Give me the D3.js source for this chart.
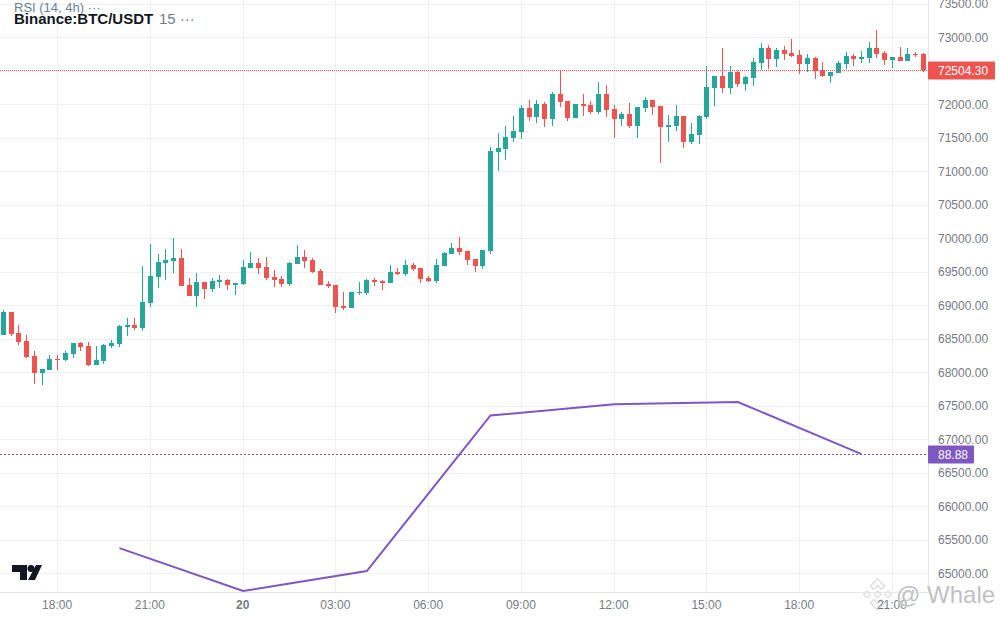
<!DOCTYPE html>
<html>
<head>
<meta charset="utf-8">
<script src="https://cdn.jsdelivr.net/npm/d3@7"></script>
<style>
html,body{margin:0;padding:0;background:#fff}
svg{display:block}
text{font-family:"Liberation Sans",Arial,sans-serif}
.tick text{fill:#787b86;font-size:12px}
.tick.day text{font-weight:bold}
</style>
</head>
<body>
<svg width="1000" height="620"></svg>
<script>
const opens = [
  68559,68902,68589,68469,68245,67992,68037,68201,68186,68275,
  68439,68395,68111,68171,68395,68424,68678,68708,68663,69036,
  69424,69633,69662,69707,69305,69140,69349,69245,69349,69379,
  69305,69319,69558,69633,69573,69424,69394,69319,69618,69722,
  69677,69513,69319,69305,68991,68961,69185,69185,69379,69364,
  69334,69498,69469,69603,69558,69409,69364,69588,69767,69856,
  69812,69692,69588,69812,71289,71333,71498,71587,71945,71811,
  72005,71781,72154,72049,71796,72005,71990,71885,72154,71930,
  71781,71856,71677,71945,72064,71975,71662,71677,71826,71438,
  71542,71811,72243,72422,72243,72481,72302,72392,72616,72839,
  72675,72810,72765,72735,72601,72690,72511,72422,72466,72601,
  72720,72675,72690,72839,72765,72660,72705,72645,72750,72750]
const highs = [
  68932,68902,68708,68559,68320,68052,68260,68260,68320,68439,
  68454,68454,68395,68424,68484,68708,68812,68812,69588,69916,
  69767,69841,70005,69841,69409,69483,69349,69409,69454,69394,
  69334,69677,69797,69707,69722,69528,69439,69648,69901,69827,
  69707,69543,69364,69305,69200,69200,69349,69394,69409,69379,
  69603,69558,69677,69633,69558,69439,69692,69797,69931,70020,
  69812,69692,69827,71363,71572,71677,71826,71990,72064,72064,
  72035,72184,72512,72049,72005,72154,72049,72333,72288,71990,
  71885,72020,71960,72109,72064,71975,71841,71990,71826,71721,
  71841,72571,72422,72839,72571,72496,72422,72690,72914,72884,
  72839,72869,72974,72810,72750,72705,72631,72481,72645,72780,
  72750,72795,72929,73108,72795,72705,72854,72839,72780,72765]
const lows = [
  68559,68544,68410,68216,67828,67813,68037,68037,68171,68216,
  68320,68096,68111,68126,68365,68380,68544,68633,68618,68976,
  69260,69379,69483,69290,69140,68976,69096,69200,69260,69230,
  69155,69305,69558,69469,69379,69275,69275,69290,69618,69558,
  69483,69305,69260,68887,68932,68961,69155,69155,69290,69230,
  69334,69454,69439,69513,69334,69349,69334,69588,69767,69752,
  69603,69498,69543,69767,71005,71169,71438,71483,71751,71721,
  71662,71677,71960,71751,71796,71826,71856,71856,71811,71498,
  71677,71647,71498,71885,71841,71125,71438,71602,71348,71408,
  71408,71781,71975,72168,72153,72258,72198,72273,72511,72526,
  72556,72660,72705,72452,72481,72377,72407,72317,72466,72526,
  72571,72616,72616,72690,72586,72541,72645,72645,72705,72481]
const closes = [
  68902,68574,68454,68230,67992,68052,68201,68186,68290,68439,
  68380,68111,68186,68410,68439,68693,68708,68663,69051,69439,
  69648,69677,69707,69290,69140,69349,69245,69364,69379,69305,
  69334,69573,69633,69558,69409,69379,69319,69633,69722,69662,
  69498,69305,69290,68976,68961,69200,69200,69379,69349,69334,
  69498,69469,69603,69543,69394,69364,69603,69782,69856,69797,
  69677,69588,69827,71304,71348,71512,71602,71945,71811,72005,
  71781,72154,72035,71796,72005,71975,71885,72154,71915,71781,
  71856,71677,71960,72064,71960,71662,71691,71826,71438,71557,
  71826,72258,72422,72243,72481,72302,72407,72631,72839,72675,
  72810,72750,72720,72601,72690,72496,72422,72481,72616,72720,
  72675,72705,72839,72750,72660,72705,72645,72750,72735,72504.3]

const rsiHours = [20,24,28,32,36,40,44]
const rsiValues = [82.61,79.75,81.08,91.45,92.2,92.35,88.88]

const priceTicks = [73500,73000,72500,72000,71500,71000,70500,70000,69500,69000,68500,68000,67500,67000,66500,66000,65500,65000]
const timeHours = [18,21,24,27,30,33,36,39,42,45]
const timeLabels = ['18:00','21:00','20','03:00','06:00','09:00','12:00','15:00','18:00','21:00']
const lastPrice = 72504.30
const lastRsi = 88.88

const upColor = '#26a69a'
const downColor = '#ef5350'
const rsiColor = '#7e57c2'
const gridColor = '#f0f0f0'
const plotW = 928
const plotH = 592

const t0 = Date.UTC(2024,2,19,0,0)
const hour = 3600000
const candleTime = i => new Date(t0 + (16.25 + i*0.25)*hour)
const hourTime = h => new Date(t0 + h*hour)

const x = d3.scaleUtc()
  .domain([candleTime(0),candleTime(119)])
  .range([3.5,923.37])
const y = d3.scaleLinear()
  .domain([65000,73000])
  .range([573.4,37.4])
const yRsi = d3.scaleLinear()
  .domain(d3.extent(rsiValues))
  .range([591,402])

const svg = d3.select('svg')

/* Grid */
const px = v => Math.floor(v)+0.5
const py = v => Math.round(v)+0.5
const $grid = svg.append('g').attr('stroke',gridColor).attr('stroke-width',1)
$grid.selectAll('.h').data(priceTicks)
  .enter().append('line').classed('h',true)
  .attr('x1',0).attr('x2',plotW)
  .attr('y1',d => py(y(d))).attr('y2',d => py(y(d)))
$grid.selectAll('.v').data(timeHours)
  .enter().append('line').classed('v',true)
  .attr('x1',d => px(x(hourTime(d)))).attr('x2',d => px(x(hourTime(d))))
  .attr('y1',0).attr('y2',plotH)

/* Candles */
const $candles = svg.append('g')
  .selectAll('g').data(d3.range(opens.length))
  .enter().append('g')
  .attr('fill',i => closes[i] >= opens[i] ? upColor : downColor)
$candles.append('rect')
  .attr('x',i => Math.floor(x(candleTime(i))))
  .attr('width',1)
  .attr('y',i => Math.round(y(highs[i])))
  .attr('height',i => Math.round(y(lows[i])-y(highs[i])))
$candles.append('rect')
  .attr('x',i => Math.floor(x(candleTime(i)))-2)
  .attr('width',5)
  .attr('y',i => Math.round(y(Math.max(opens[i],closes[i]))))
  .attr('height',i => Math.max(1,Math.round(Math.abs(y(opens[i])-y(closes[i])))))

/* Last price and RSI level lines */
svg.append('line')
  .attr('x1',0).attr('x2',plotW)
  .attr('y1',px(y(lastPrice))).attr('y2',px(y(lastPrice)))
  .attr('stroke',downColor).attr('stroke-dasharray','1 1')
svg.append('line')
  .attr('x1',0).attr('x2',plotW)
  .attr('y1',px(yRsi(lastRsi))).attr('y2',px(yRsi(lastRsi)))
  .attr('stroke',rsiColor).attr('stroke-dasharray','2 2')

/* RSI */
svg.append('path')
  .datum(d3.zip(rsiHours,rsiValues))
  .attr('fill','none')
  .attr('stroke',rsiColor)
  .attr('stroke-width',2)
  .attr('d',d3.line().x(d => x(hourTime(d[0]))).y(d => yRsi(d[1])))

/* Watermark logo sits under the axis text */
const $mark = svg.append('g')
  .attr('transform','translate(877.5,594.5) scale(1.12) translate(-877.5,-593)')
  .attr('fill','#fbfbfb').attr('stroke','#d6d8dc').attr('stroke-width',0.9)
$mark.append('path').attr('d','M877.5 579L884 585.5L881 588.5L877.5 585L874 588.5L871 585.5Z')
$mark.append('path').attr('d','M877.5 607L871 600.5L874 597.5L877.5 601L881 597.5L884 600.5Z')
$mark.append('path').attr('d','M877.5 590L880.5 593L877.5 596L874.5 593Z')
$mark.append('path').attr('d','M868 590L871 593L868 596L865 593Z')
$mark.append('path').attr('d','M887 590L890 593L887 596L884 593Z')

/* Axes */
const yAxis = d3.axisRight(y)
  .tickValues(priceTicks)
  .tickFormat(d3.format('.2f'))
  .tickSize(0)
  .tickPadding(10)
svg.append('g')
  .attr('transform',`translate(${plotW},0)`)
  .call(yAxis)
  .call(g => g.select('.domain').remove())
  .call(g => g.selectAll('text').attr('font-family',null))

const xAxis = d3.axisBottom(x)
  .tickValues(timeHours.map(hourTime))
  .tickFormat((_,i) => timeLabels[i])
  .tickSize(0)
  .tickPadding(8)
  .offset(-0.5)
svg.append('g')
  .attr('transform',`translate(0,${plotH})`)
  .call(xAxis)
  .call(g => g.select('.domain').remove())
  .call(g => g.selectAll('.tick').classed('day',(_,i) => timeLabels[i] == '20'))

svg.append('line').attr('x1',0).attr('x2',plotW+0.5).attr('y1',plotH+0.5).attr('y2',plotH+0.5).attr('stroke','#e6e6e6')
svg.append('line').attr('x1',plotW+0.5).attr('x2',plotW+0.5).attr('y1',0).attr('y2',plotH+0.5).attr('stroke','#e6e6e6')

/* Value labels */
function badge(val,color,w,txt){
  const cy = px(val)
  svg.append('rect').attr('x',plotW).attr('y',cy-9).attr('width',w).attr('height',18).attr('rx',1).attr('fill',color)
  svg.append('text').attr('x',plotW+10).attr('y',cy+4.5).attr('fill','#fff').attr('font-size',12).text(txt)
}
badge(y(lastPrice),downColor,67,d3.format('.2f')(lastPrice))
badge(yRsi(lastRsi),rsiColor,46,d3.format('.2f')(lastRsi))

/* Legend */
svg.append('text').attr('x',14).attr('y',12).attr('fill','#6a8299').attr('font-size',13).text('RSI (14, 4h) ···')
svg.append('text').attr('x',14).attr('y',24).attr('fill','#131722').attr('font-size',15).attr('font-weight','bold').text('Binance:BTC/USDT')
svg.append('text').attr('x',159).attr('y',24).attr('fill','#787b86').attr('font-size',15).text('15 ···')

/* TradingView logo */
const $logo = svg.append('g').attr('fill','#131722')
$logo.append('path').attr('d','M12 565H27V580H20V572H12Z')
$logo.append('circle').attr('cx',31).attr('cy',568.5).attr('r',3.5)
$logo.append('path').attr('d','M36 565H42L35 580H28Z')

/* Watermark text */
svg.append('text').attr('x',896).attr('y',603).attr('font-size',24)
  .attr('fill','#bfc1c7').attr('stroke','#fff').attr('stroke-opacity',0.6).attr('stroke-width',1).attr('paint-order','stroke').text('@ Whale')
</script>
</body>
</html>
